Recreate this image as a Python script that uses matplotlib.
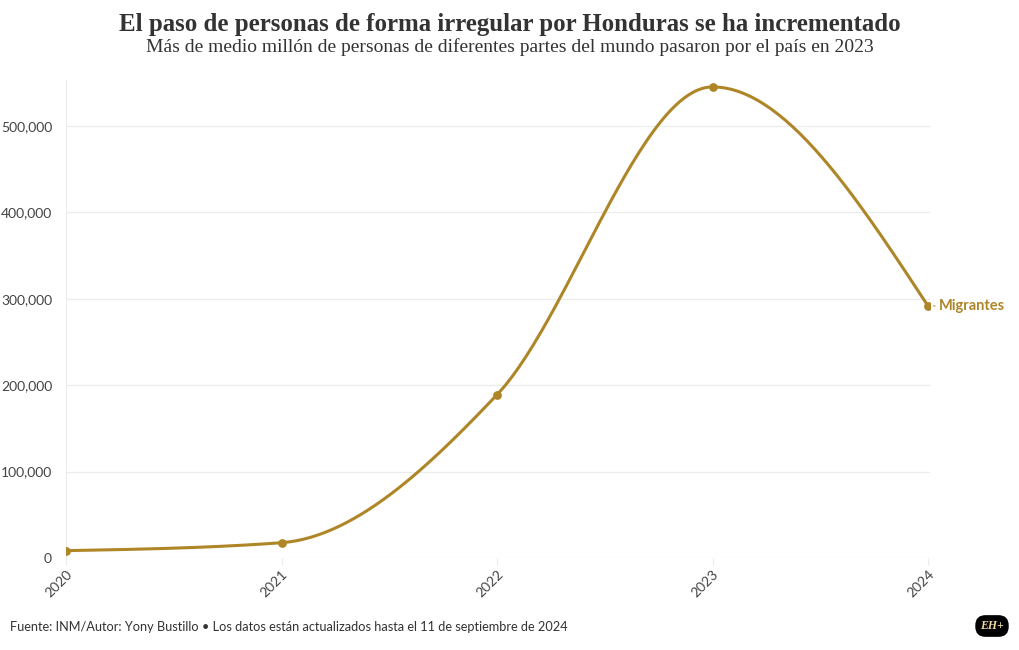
import numpy as np
import matplotlib.pyplot as plt
from matplotlib.ticker import FuncFormatter

# -----------------------------
# Data
# -----------------------------
years = [2020, 2021, 2022, 2023, 2024]
migrantes = [8500, 17700, 188900, 545000, 291600]

GOLD = "#AE8628"
GRID = "#ececec"
TEXT = "#333333"


def monotone_x(x, y, n=60):
    # d3.curveMonotoneX style cubic between points
    x = np.asarray(x, float)
    y = np.asarray(y, float)
    h = np.diff(x)
    s = np.diff(y) / h
    t = np.zeros_like(y)
    for i in range(1, len(x) - 1):
        p = (s[i - 1] * h[i] + s[i] * h[i - 1]) / (h[i - 1] + h[i])
        t[i] = (np.sign(s[i - 1]) + np.sign(s[i])) * min(abs(s[i - 1]), abs(s[i]), 0.5 * abs(p))
    t[0] = (3 * s[0] - t[1]) / 2
    t[-1] = (3 * s[-1] - t[-2]) / 2
    xs, ys = [], []
    for i in range(len(x) - 1):
        u = np.linspace(0, 1, n)
        dx = h[i] / 3
        p0, p1 = (x[i], y[i]), (x[i] + dx, y[i] + dx * t[i])
        p2, p3 = (x[i + 1] - dx, y[i + 1] - dx * t[i + 1]), (x[i + 1], y[i + 1])
        bx = (1 - u) ** 3 * p0[0] + 3 * (1 - u) ** 2 * u * p1[0] + 3 * (1 - u) * u ** 2 * p2[0] + u ** 3 * p3[0]
        by = (1 - u) ** 3 * p0[1] + 3 * (1 - u) ** 2 * u * p1[1] + 3 * (1 - u) * u ** 2 * p2[1] + u ** 3 * p3[1]
        xs.extend(bx)
        ys.extend(by)
    return np.array(xs), np.array(ys)


plt.rcParams["font.family"] = ["Lato", "DejaVu Sans"]

fig = plt.figure(figsize=(10.2, 6.5), dpi=100)
ax = fig.add_axes([66 / 1020, 92 / 650, 864 / 1020, 478 / 650])

cx, cy = monotone_x(years, migrantes)
ax.plot(cx, cy, color=GOLD, lw=2.2, solid_capstyle="round", zorder=3)
ax.scatter(years, migrantes, color=GOLD, s=28, zorder=4)

ax.set_xlim(2020, 2024 + 2 / 862 * 4)
ax.set_ylim(0, 553000)
ax.set_yticks(range(0, 500001, 100000))
ax.yaxis.set_major_formatter(FuncFormatter(lambda v, _: f"{int(v):,}"))
ax.set_xticks(years)
ax.set_xticklabels([str(y) for y in years], rotation=45, ha="right", rotation_mode="anchor")

ax.grid(axis="y", color=GRID, lw=0.9)
ax.set_axisbelow(True)
for side in ["top", "right", "bottom"]:
    ax.spines[side].set_visible(False)
ax.spines["left"].set_color(GRID)
ax.tick_params(axis="y", length=0, pad=10, labelsize=10, labelcolor="#444444")
ax.tick_params(axis="x", length=5, color=GRID, pad=2, labelsize=10, labelcolor="#444444")

# end label
ax.annotate("Migrantes", xy=(years[-1], migrantes[-1]), xytext=(8, 0),
            textcoords="offset points", va="center", ha="left",
            fontsize=10.5, fontweight="bold", color=GOLD,
            arrowprops=dict(arrowstyle="-", color=GOLD, lw=0.8, shrinkA=1, shrinkB=4))

# titles
fig.text(0.5, 1 - 24 / 650, "El paso de personas de forma irregular por Honduras se ha incrementado",
         ha="center", va="center", fontsize=17.9, fontweight="bold", color=TEXT,
         family=["Liberation Serif"])
fig.text(0.5, 1 - 47 / 650, "Más de medio millón de personas de diferentes partes del mundo pasaron por el país en 2023",
         ha="center", va="center", fontsize=14, color=TEXT, family=["Liberation Serif"])
fig.text(10 / 1020, 1 - 627 / 650,
         "Fuente: INM/Autor: Yony Bustillo • Los datos están actualizados hasta el 11 de septiembre de 2024",
         ha="left", va="center", fontsize=9.2, color=TEXT)

# logo
fig.text(992 / 1020, 1 - 626 / 650, "EH+", ha="center", va="center", fontsize=8.5,
         fontweight="bold", fontstyle="italic", color="#f0d9a0",
         family=["Liberation Serif"],
         bbox=dict(boxstyle="round,pad=0.35,rounding_size=0.8", fc="black", ec="black"))

fig.savefig("out.png", dpi=100)
